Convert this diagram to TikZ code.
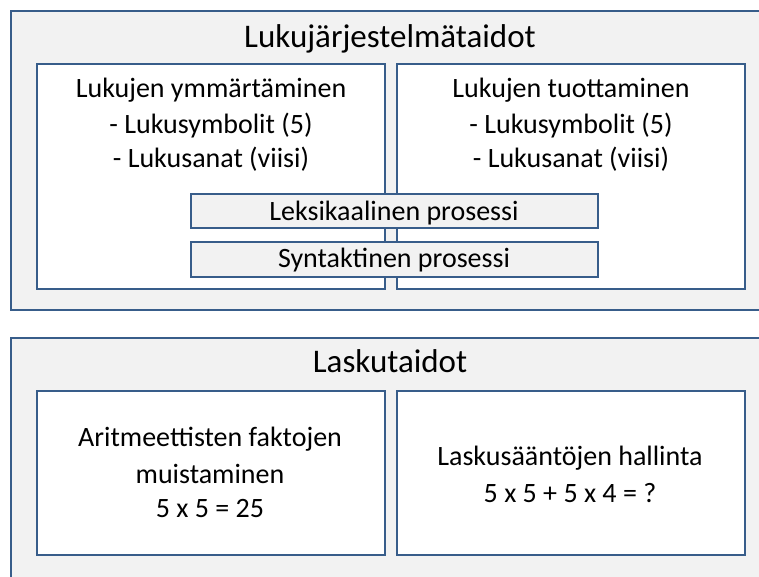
\documentclass[tikz,border=0pt]{standalone}
\usepackage{fontspec}
\setmainfont{Carlito}
\definecolor{rimblue}{RGB}{56,93,138}
\definecolor{panelgray}{RGB}{242,242,242}
\tikzset{
  panel/.style={draw=rimblue,fill=panelgray,line width=2.6pt},
  card/.style={draw=rimblue,fill=white,line width=2.6pt},
  bar/.style={draw=rimblue,fill=panelgray,line width=2.6pt},
  big/.style={anchor=base,inner sep=0pt,font=\fontsize{33}{38}\selectfont},
  txt/.style={anchor=base,inner sep=0pt,font=\fontsize{28}{33}\selectfont},
  small/.style={anchor=base,inner sep=0pt,font=\fontsize{28}{33}\selectfont}
}

\begin{document}
\begin{tikzpicture}[x=1pt,y=-1pt]
        \useasboundingbox (0,0) rectangle (759,576);
        \clip (0,0) rectangle (759,576);
        % upper group
        \draw[panel] (11,11) rectangle (800,310);
        \draw[card] (37,64) rectangle (385,289);
        \draw[card] (397,64) rectangle (745,289);
        \draw[bar] (191,194) rectangle (598,228);
        \draw[bar] (191,242) rectangle (598,277);
        \node[big] (lj) at (390,47) {Lukujärjestelmätaidot};
        \node[txt] (ym) at (211,97) {Lukujen ymmärtäminen};
        \node[txt] (ym1) at (211,133) {- Lukusymbolit (5)};
        \node[txt] (ym2) at (211,167) {- Lukusanat (viisi)};
        \node[txt] (tu) at (571,97) {Lukujen tuottaminen};
        \node[txt] (tu1) at (571,133) {- Lukusymbolit (5)};
        \node[txt] (tu2) at (571,167) {- Lukusanat (viisi)};
        \node[small] (lek) at (394,220) {Leksikaalinen prosessi};
        \node[small] (syn) at (394,267) {Syntaktinen prosessi};
        % lower group
        \draw[panel] (11,338) rectangle (800,620);
        \draw[card] (37,391) rectangle (385,555);
        \draw[card] (397,391) rectangle (745,555);
        \node[big] (lt) at (390,372) {Laskutaidot};
        \node[txt] (ar) at (210,446) {Aritmeettisten faktojen};
        \node[txt] (ar1) at (210,483) {muistaminen};
        \node[txt] (ar2) at (210,517) {5 x 5 = 25};
        \node[txt] (ls) at (570,465) {Laskusääntöjen hallinta};
        \node[txt] (ls1) at (570,502) {5 x 5 + 5 x 4 = ?};
    \end{tikzpicture}
\end{document}
